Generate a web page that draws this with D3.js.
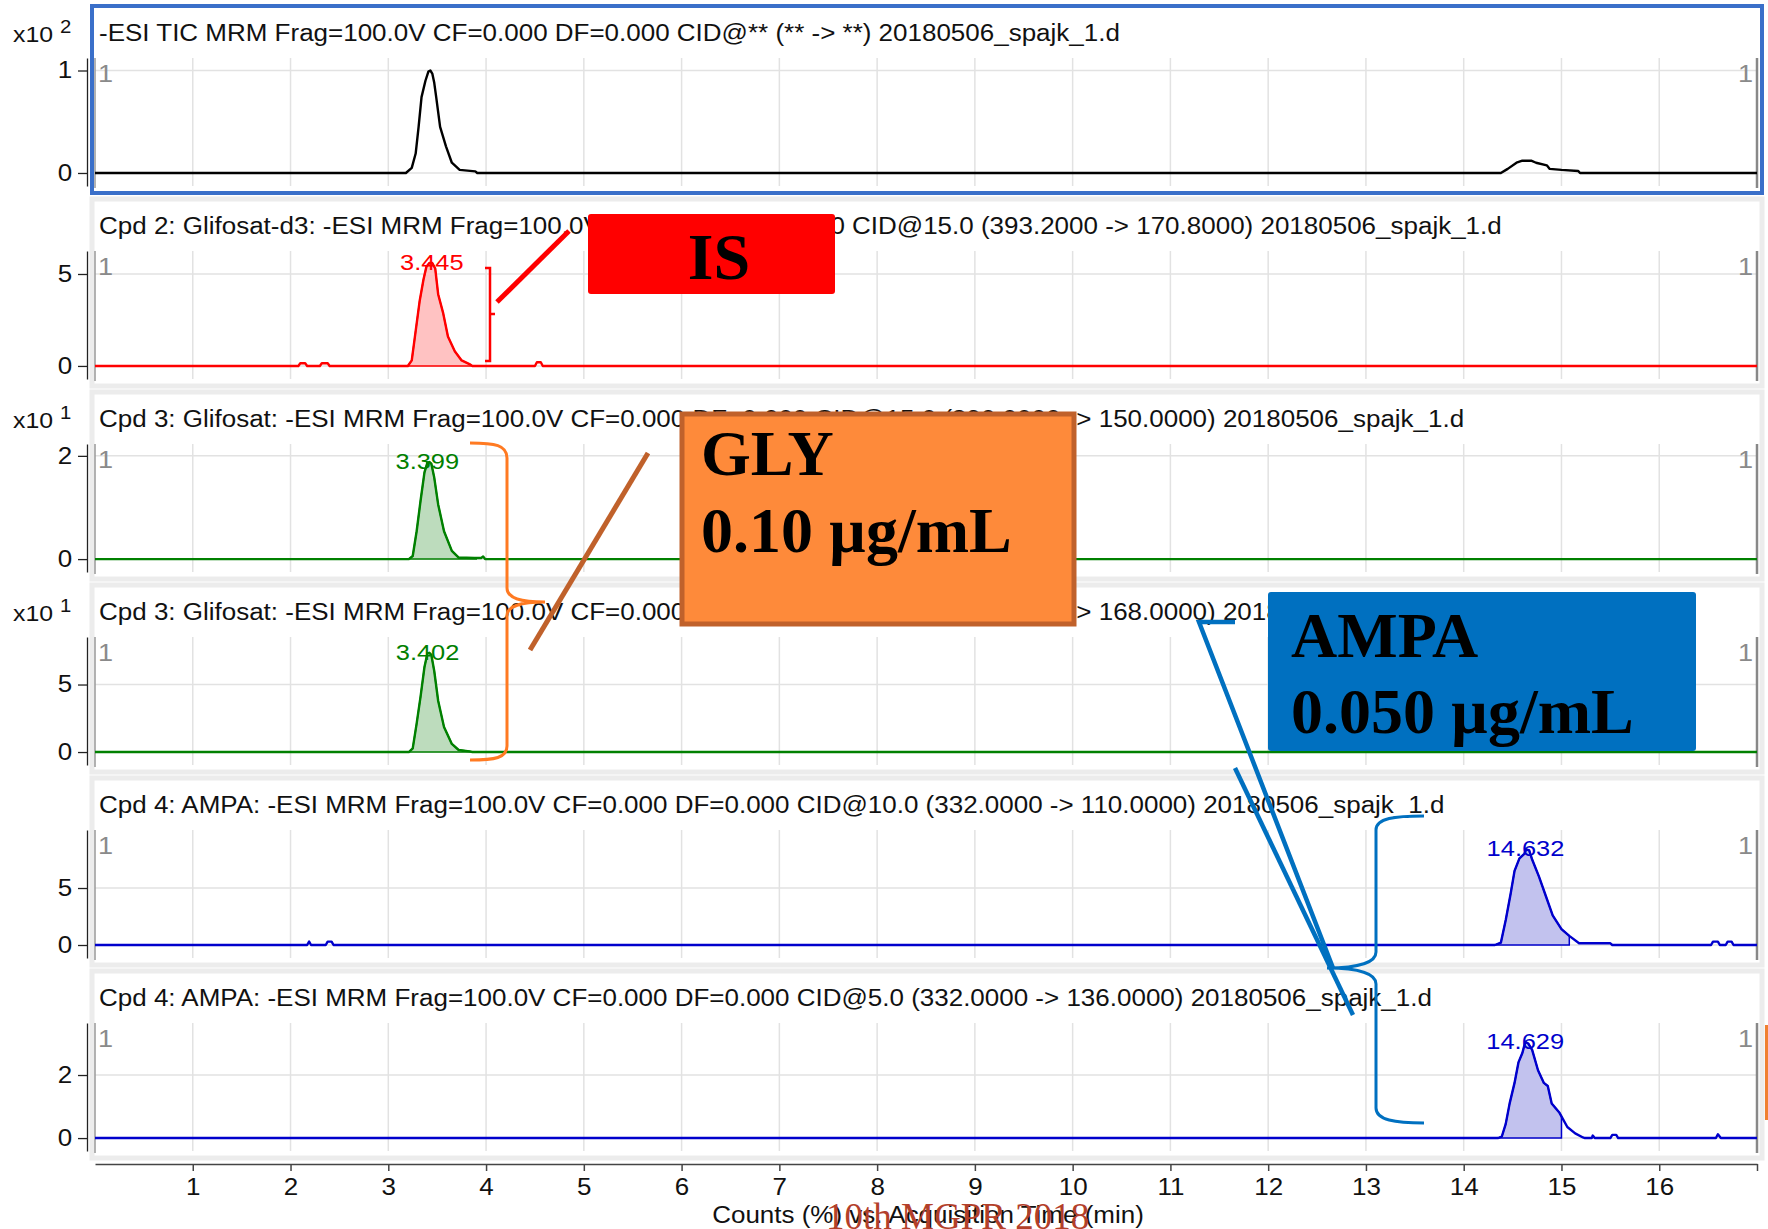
<!DOCTYPE html>
<html>
<head>
<meta charset="utf-8">
<script src="https://cdn.jsdelivr.net/npm/d3@7"></script>
<style>
  body { margin: 0; background: #fff; }
  svg { display: block; font-family: "Liberation Sans", Arial, sans-serif; }
</style>
</head>
<body>
<div id="chart"></div>
<script>
const width = 1768;
const height = 1229;
const stretch = 1.13; // the instrument export is a bit wider than tall

// acquisition time axis
const timeDomain = [0, 17];
const timeTicks = d3.range(1, 18);

const titles = [
  "-ESI TIC MRM Frag=100.0V CF=0.000 DF=0.000 CID@** (** -> **) 20180506_spajk_1.d",
  "Cpd 2: Glifosat-d3: -ESI MRM Frag=100.0V CF=0.000 DF=0.000 CID@15.0 (393.2000 -> 170.8000) 20180506_spajk_1.d",
  "Cpd 3: Glifosat: -ESI MRM Frag=100.0V CF=0.000 DF=0.000 CID@15.0 (390.0000 -> 150.0000) 20180506_spajk_1.d",
  "Cpd 3: Glifosat: -ESI MRM Frag=100.0V CF=0.000 DF=0.000 CID@15.0 (390.0000 -> 168.0000) 20180506_spajk_1.d",
  "Cpd 4: AMPA: -ESI MRM Frag=100.0V CF=0.000 DF=0.000 CID@10.0 (332.0000 -> 110.0000) 20180506_spajk_1.d",
  "Cpd 4: AMPA: -ESI MRM Frag=100.0V CF=0.000 DF=0.000 CID@5.0 (332.0000 -> 136.0000) 20180506_spajk_1.d"
];
const exponents = [2, null, 1, 1, null, null];
const yTicks = [[0, 1], [0, 5], [0, 2], [0, 5], [0, 5], [0, 2]];
const yDomains = [[-0.127, 1.122], [-0.71, 6.25], [-0.25, 2.23], [-0.96, 8.52], [-1.14, 10.09], [-0.41, 3.65]];

// retention time labels and integration windows
const peakLabels = [null, "3.445", "3.399", "3.402", "14.632", "14.629"];
const integration = [null, [3.2, 3.86], [3.21, 3.9], [3.21, 3.86], [14.32, 15.08], [14.35, 15.0]];

// traces: [time (min), counts]
const tic = [[0,0],[3.18,0],[3.24,0.05],[3.28,0.19],[3.31,0.45],[3.34,0.74],[3.38,0.9],[3.41,0.99],[3.43,1.0],[3.45,0.97],[3.47,0.88],[3.49,0.74],[3.53,0.45],[3.59,0.26],[3.65,0.1],[3.73,0.03],[3.89,0.016],[3.91,0],
  [14.38,0],[14.45,0.04],[14.54,0.1],[14.6,0.12],[14.69,0.12],[14.74,0.1],[14.85,0.075],[14.88,0.04],[15.0,0.03],[15.17,0.02],[15.19,0],[17,0]];
const isTrace = [[0,0],[2.08,0],[2.1,0.15],[2.15,0.15],[2.17,0],[2.3,0],[2.32,0.15],[2.38,0.15],[2.4,0],[3.2,0],[3.24,0.3],[3.27,1.5],[3.32,3.5],[3.36,4.7],[3.39,5.4],[3.42,5.6],[3.45,5.6],[3.48,5.3],[3.51,3.9],[3.56,2.9],[3.61,1.6],[3.68,0.8],[3.75,0.3],[3.83,0.1],[3.86,0],
  [4.5,0],[4.52,0.2],[4.56,0.2],[4.58,0],[17,0]];
const glyQuant = [[0,0],[3.21,0],[3.25,0.06],[3.29,0.54],[3.33,1.13],[3.37,1.68],[3.4,1.87],[3.42,1.88],[3.44,1.85],[3.47,1.58],[3.51,1.06],[3.57,0.54],[3.65,0.16],[3.72,0.03],[3.88,0.02],[3.95,0.02],[3.97,0.05],[3.99,0],[17,0]];
const glyQual = [[0,0],[3.21,0],[3.25,0.27],[3.29,2.1],[3.33,4.1],[3.37,6.3],[3.4,7.3],[3.42,7.35],[3.44,7.2],[3.47,6.0],[3.51,3.8],[3.57,1.85],[3.65,0.6],[3.72,0.15],[3.83,0.05],[3.86,0],[17,0]];
const ampaQuant = [[0,0],[2.17,0],[2.19,0.3],[2.21,0],[2.36,0],[2.38,0.3],[2.42,0.3],[2.44,0],[14.32,0],[14.38,0.2],[14.43,2.2],[14.48,4.5],[14.52,6.5],[14.57,7.6],[14.62,8.0],[14.64,8.4],[14.67,8.3],[14.7,7.5],[14.77,6.0],[14.84,4.3],[14.91,2.6],[15.0,1.4],[15.08,0.8],[15.18,0.15],[15.5,0.15],[15.52,0],
  [16.53,0],[16.55,0.3],[16.6,0.3],[16.62,0],[16.68,0],[16.7,0.3],[16.74,0.3],[16.76,0],[17,0]];
const ampaQual = [[0,0],[14.35,0],[14.39,0.05],[14.43,0.45],[14.47,1.1],[14.52,1.75],[14.56,2.4],[14.6,2.7],[14.63,3.05],[14.66,3.0],[14.7,2.8],[14.76,2.15],[14.82,1.75],[14.86,1.65],[14.9,1.1],[14.98,0.8],[15.06,0.35],[15.14,0.15],[15.22,0.02],[15.24,0],
  [15.31,0],[15.32,0.08],[15.34,0],[15.5,0],[15.52,0.1],[15.56,0.1],[15.58,0],[16.58,0],[16.6,0.12],[16.63,0],[17,0]];

const traces = [tic, isTrace, glyQuant, glyQual, ampaQuant, ampaQual];
const lineColors = ["#000000", "#ff0000", "#008000", "#008000", "#0000cc", "#0000cc"];
const fillColors = [null, "#ffc2c2", "#bddcbd", "#bddcbd", "#c2c2ee", "#c2c2ee"];

const svg = d3.select("#chart").append("svg")
  .attr("width", width)
  .attr("height", height);

const x = d3.scaleLinear().domain(timeDomain).range([95, 1757]);

const valueAt = (pts, t) => {
  for (let k = 1; k < pts.length; k++) {
    if (pts[k][0] >= t) {
      const a = pts[k - 1], b = pts[k];
      return a[1] + (b[1] - a[1]) * (t - a[0]) / (b[0] - a[0]);
    }
  }
  return 0;
};

// sans text, widened like the source
const label = (sel, px, py, txt, size, fill) => sel.append("text")
  .attr("transform", "translate(" + px + "," + py + ") scale(" + stretch + ",1)")
  .attr("font-size", size)
  .attr("fill", fill)
  .text(txt);

traces.forEach((pts, i) => {
  const top = 6 + 193 * i;
  const g = svg.append("g").attr("transform", "translate(0," + top + ")");
  const y = d3.scaleLinear().domain(yDomains[i]).range([180, 52]);

  // panel frame
  g.append("rect")
    .attr("x", 92).attr("y", 0)
    .attr("width", 1670).attr("height", 187)
    .attr("fill", "#fff")
    .attr("stroke", i === 0 ? "#3a6fc9" : "#ececec")
    .attr("stroke-width", i === 0 ? 4 : 5);

  // grid
  g.append("g").selectAll("line")
    .data(d3.range(1, 17))
    .join("line")
    .attr("x1", d => x(d)).attr("x2", d => x(d))
    .attr("y1", 52).attr("y2", 180)
    .attr("stroke", "#e2e2e2").attr("stroke-width", 1.5);

  g.append("g").selectAll("line")
    .data(yTicks[i])
    .join("line")
    .attr("x1", 95).attr("x2", 1757)
    .attr("y1", d => y(d)).attr("y2", d => y(d))
    .attr("stroke", "#e2e2e2").attr("stroke-width", 1.5);

  // plot frame sides
  g.append("line").attr("x1", 95).attr("x2", 95).attr("y1", 52).attr("y2", 182)
    .attr("stroke", "#999").attr("stroke-width", 1.5);
  g.append("line").attr("x1", 1757).attr("x2", 1757).attr("y1", 52).attr("y2", 182)
    .attr("stroke", "#888").attr("stroke-width", 2.5);

  // y axis
  const ax = g.append("g")
    .attr("transform", "translate(87,0)")
    .call(d3.axisLeft(y).tickValues(yTicks[i]).tickFormat(d3.format("d"))
      .tickSize(9).tickSizeOuter(0).tickPadding(4));
  ax.selectAll("text").attr("font-size", 23).attr("fill", "#111")
    .attr("font-family", "Liberation Sans, Arial").attr("transform", "scale(" + stretch + ",1)");
  ax.selectAll("line, path").attr("stroke", "#222").attr("stroke-width", 1.3);

  // integrated area
  if (integration[i]) {
    const [t0, t1] = integration[i];
    const inside = [[t0, valueAt(pts, t0)]]
      .concat(pts.filter(p => p[0] > t0 && p[0] < t1))
      .concat([[t1, valueAt(pts, t1)]]);
    const area = d3.area().x(d => x(d[0])).y0(y(0)).y1(d => y(d[1]));
    g.append("path")
      .attr("d", area(inside))
      .attr("fill", fillColors[i])
      .attr("stroke", lineColors[i])
      .attr("stroke-width", 1.5);
  }

  // trace
  const line = d3.line().x(d => x(d[0])).y(d => y(d[1]));
  g.append("path")
    .attr("d", line(pts))
    .attr("fill", "none")
    .attr("stroke", lineColors[i])
    .attr("stroke-width", 2.4)
    .attr("stroke-linejoin", "round");

  // peak label
  if (peakLabels[i]) {
    const apex = d3.max(pts, d => d[1]);
    label(g, x(+peakLabels[i]), y(apex) + 7, peakLabels[i], 22.5, lineColors[i])
      .attr("text-anchor", "middle");
  }

  // titles and markers
  label(g, 99, 35, titles[i], 23, "#111");

  if (exponents[i] !== null) {
    const t = label(g, 13, 36, "", 22, "#111");
    t.append("tspan").text("x10 ");
    t.append("tspan").attr("dy", -9).attr("font-size", 18).text(exponents[i]);
  }

  label(g, 98, 76, "1", 24, "#8a8a8a");
  label(g, 1753, 76, "1", 24, "#8a8a8a").attr("text-anchor", "end");
});

// bottom axis
const xAxis = svg.append("g")
  .attr("transform", "translate(0,1164)")
  .call(d3.axisBottom(x).tickValues(timeTicks).tickFormat(d => d < 17 ? d : "")
    .tickSize(7).tickSizeOuter(0).tickPadding(8));
xAxis.selectAll("text").attr("font-size", 23).attr("fill", "#111")
  .attr("font-family", "Liberation Sans, Arial").attr("transform", "scale(" + stretch + ",1)");
xAxis.selectAll("line, path").attr("stroke", "#444").attr("stroke-width", 1.5);

label(svg, 928, 1223, "Counts (%) vs. Acquisition Time (min)", 23, "#111")
  .attr("text-anchor", "middle");

svg.append("text")
  .attr("x", 826).attr("y", 1229)
  .attr("font-family", "Liberation Serif, Times New Roman, serif")
  .attr("font-size", 37)
  .attr("fill", "#b3402a")
  .text("10th MGPR 2018");

// annotations
const ann = svg.append("g");
const serif = "Liberation Serif, Times New Roman, serif";

// IS
ann.append("path").attr("d", "M485,268 L490,268 L490,361 L485,361 M490,314 L495,314")
  .attr("fill", "none").attr("stroke", "#ff0000").attr("stroke-width", 2.5);
ann.append("line").attr("x1", 497).attr("y1", 302).attr("x2", 569).attr("y2", 231)
  .attr("stroke", "#ff0000").attr("stroke-width", 5);
ann.append("rect").attr("x", 588).attr("y", 214).attr("width", 247).attr("height", 80).attr("rx", 3)
  .attr("fill", "#ff0000");
ann.append("text").attr("x", 719).attr("y", 279).attr("text-anchor", "middle")
  .attr("font-family", serif).attr("font-weight", "bold")
  .attr("font-size", 66).attr("fill", "#000").text("IS");

// GLY
ann.append("path")
  .attr("d", "M470,443 C495,443 507,445 507,458 L507,588 C507,598 520,602 545,602 C520,602 507,606 507,616 L507,746 C507,758 495,760 470,760")
  .attr("fill", "none").attr("stroke", "#ff7a22").attr("stroke-width", 3);
ann.append("line").attr("x1", 530).attr("y1", 650).attr("x2", 648).attr("y2", 453)
  .attr("stroke", "#c0612b").attr("stroke-width", 5);
ann.append("rect").attr("x", 682).attr("y", 414).attr("width", 392).attr("height", 210)
  .attr("fill", "#fe8a3a").attr("stroke", "#c0612b").attr("stroke-width", 5);
const glyText = ann.append("text")
  .attr("font-family", serif).attr("font-weight", "bold")
  .attr("font-size", 64).attr("fill", "#000");
glyText.append("tspan").attr("x", 701).attr("y", 475).text("GLY");
glyText.append("tspan").attr("x", 701).attr("y", 552).text("0.10 µg/mL");

// AMPA
ann.append("path")
  .attr("d", "M1424,816 C1395,816 1376,818 1376,830 L1376,952 C1376,962 1360,968 1327,968 C1360,968 1376,974 1376,984 L1376,1108 C1376,1120 1395,1123 1424,1123")
  .attr("fill", "none").attr("stroke", "#0070c0").attr("stroke-width", 3);
ann.append("path").attr("d", "M1235,622 L1199,622 L1333,968")
  .attr("fill", "none").attr("stroke", "#0070c0").attr("stroke-width", 4.5);
ann.append("line").attr("x1", 1235).attr("y1", 768).attr("x2", 1353).attr("y2", 1015)
  .attr("stroke", "#0070c0").attr("stroke-width", 4.5);
ann.append("rect").attr("x", 1268).attr("y", 592).attr("width", 428).attr("height", 159).attr("rx", 3)
  .attr("fill", "#0070c0");
const ampaText = ann.append("text")
  .attr("font-family", serif).attr("font-weight", "bold")
  .attr("font-size", 64).attr("fill", "#000");
ampaText.append("tspan").attr("x", 1291).attr("y", 657).text("AMPA");
ampaText.append("tspan").attr("x", 1291).attr("y", 733).text("0.050 µg/mL");

// sliver at right edge
ann.append("rect").attr("x", 1765).attr("y", 1025).attr("width", 3).attr("height", 95).attr("fill", "#f08030");
</script>
</body>
</html>
